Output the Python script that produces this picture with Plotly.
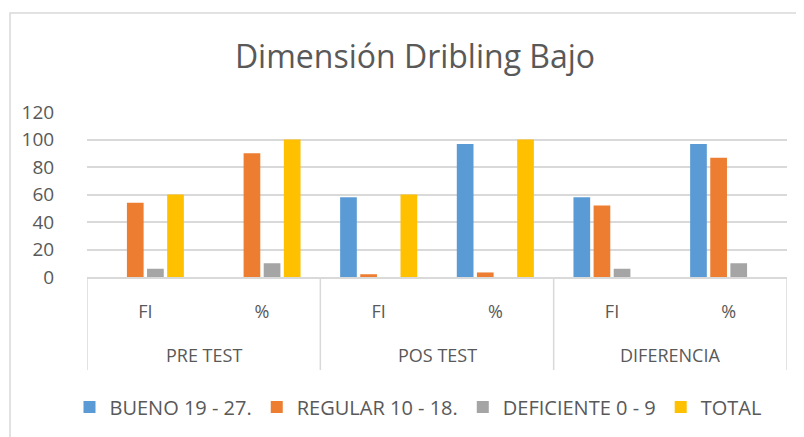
import plotly.graph_objects as go

groups = ["PRE TEST", "PRE TEST", "POS TEST", "POS TEST", "DIFERENCIA", "DIFERENCIA"]
subcats = ["FI", "%", "FI", "%", "FI", "%"]
bueno = [0, 0, 58, 96.7, 58, 96.7]
regular = [54, 90, 2, 3.3, 52, 86.7]
deficiente = [6, 10, 0, 0, 6, 10]
total = [60, 100, 60, 100, 0, 0]

series_names = ["BUENO 19 - 27.", "REGULAR 10 - 18.", "DEFICIENTE 0 - 9", "TOTAL"]
series_vals = [bueno, regular, deficiente, total]
colors = ["#5B9BD5", "#ED7D31", "#A5A5A5", "#FFC000"]

# page body has an 8px margin; work in page coordinates then shift
OFF = 8
W, H = 804, 437
ml = 87 - OFF
mt = 112 - OFF
mr = W - (787 - OFF)
mb = H - (277 - OFF)
pw = W - ml - mr
ph = H - mt - mb

xpos = list(range(len(subcats)))

fig = go.Figure()
for name, vals, c in zip(series_names, series_vals, colors):
    fig.add_trace(go.Bar(x=xpos, y=vals, name=name,
                         marker=dict(color=c, line=dict(width=0))))

# group labels and dividers, derived from the groups list
grid = "#D9D9D9"
div_y = -(370 - 277) / ph
bounds = []
start = 0
for i in range(1, len(groups) + 1):
    if i == len(groups) or groups[i] != groups[start]:
        fig.add_annotation(x=(start + i - 1) / 2, y=-(355 - 277) / ph, xref="x", yref="paper",
                           text=groups[start], showarrow=False, yanchor="middle",
                           font=dict(size=18, color="#595959"))
        bounds.append(start - 0.5)
        start = i
bounds.append(len(groups) - 0.5)
for b in bounds:
    fig.add_shape(type="line", xref="x", yref="paper", x0=b, x1=b, y0=0, y1=div_y,
                  line=dict(color=grid, width=1.5))

font = "'Open Sans', sans-serif"
fig.update_layout(
    width=W, height=H,
    margin=dict(l=ml, r=mr, t=mt, b=mb, autoexpand=False),
    paper_bgcolor="white", plot_bgcolor="white",
    barmode="group", bargap=0.31, bargroupgap=0.17,
    title=dict(text="Dimensión Dribling Bajo", x=(415 - OFF - ml) / pw, xref="paper",
               xanchor="center", y=1 - (57 - OFF) / H, yanchor="middle",
               font=dict(family=font, size=32, color="#595959")),
    font=dict(family=font, color="#595959", size=18),
    showlegend=True,
    legend=dict(orientation="h", x=(418 - OFF - ml) / pw, xanchor="center", yref="container",
                y=1 - (407 - OFF) / H, yanchor="middle", font=dict(size=20, color="#595959"),
                itemwidth=30, traceorder="normal"),
    yaxis=dict(range=[0, 120], dtick=20, showgrid=True, gridcolor=grid,
               gridwidth=1.5, zeroline=False, showline=False, automargin=False,
               tickfont=dict(size=19, color="#595959"), ticks="outside", ticklen=28,
               tickcolor="rgba(0,0,0,0)"),
    xaxis=dict(range=[-0.5, len(subcats) - 0.5], tickvals=xpos, ticktext=subcats,
               showgrid=False, zeroline=False, showline=True, linecolor=grid, linewidth=1.5,
               automargin=False, ticks="outside", ticklen=18, tickcolor="rgba(0,0,0,0)",
               tickfont=dict(size=18, color="#595959")),
)
# chart border
fig.add_shape(type="rect", xref="paper", yref="paper",
              x0=(10 - OFF - ml) / pw, x1=(W + 20 - ml) / pw,
              y0=-(H + 20 - mt - ph) / ph, y1=1 + (mt - (13 - OFF)) / ph,
              line=dict(color=grid, width=1.5), fillcolor="rgba(0,0,0,0)")

fig.write_html("out.html")
